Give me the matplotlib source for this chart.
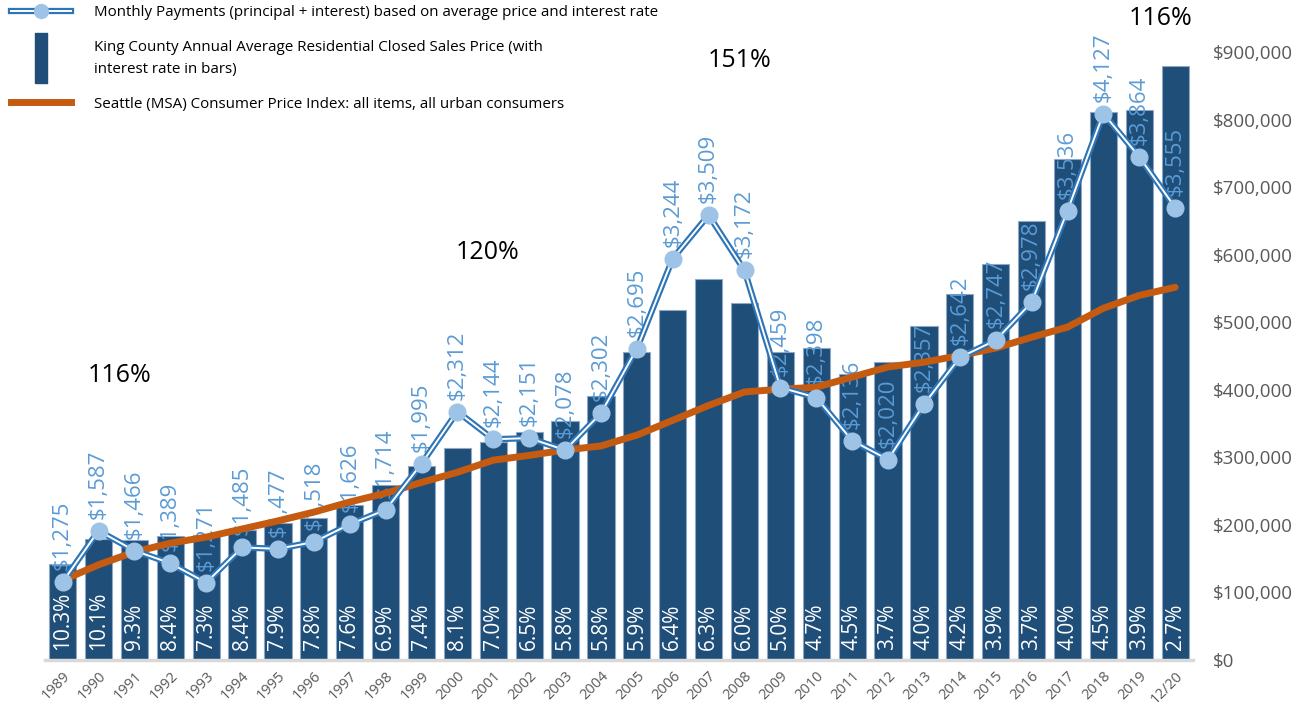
import matplotlib
matplotlib.use("Agg")
import matplotlib.pyplot as plt
from matplotlib.lines import Line2D
from matplotlib.legend_handler import HandlerTuple
from matplotlib.ticker import FuncFormatter

plt.rcParams['font.family'] = ['Open Sans', 'DejaVu Sans']

years = ['1989', '1990', '1991', '1992', '1993', '1994', '1995', '1996', '1997', '1998',
         '1999', '2000', '2001', '2002', '2003', '2004', '2005', '2006', '2007', '2008',
         '2009', '2010', '2011', '2012', '2013', '2014', '2015', '2016', '2017', '2018',
         '2019', '12/20']

# average closed sales price ($)
avg_price = [142000, 179000, 178000, 184000, 185000, 192000, 203000, 210000, 229000, 259000,
             287000, 314000, 323000, 337000, 354000, 391000, 456000, 518000, 565000, 528000,
             456000, 462000, 423000, 441000, 494000, 542000, 586000, 650000, 742000, 811000,
             814000, 879000]

# 30-yr interest rate (%) shown inside bars
rates = [10.3, 10.1, 9.3, 8.4, 7.3, 8.4, 7.9, 7.8, 7.6, 6.9,
         7.4, 8.1, 7.0, 6.5, 5.8, 5.8, 5.9, 6.4, 6.3, 6.0,
         5.0, 4.7, 4.5, 3.7, 4.0, 4.2, 3.9, 3.7, 4.0, 4.5,
         3.9, 2.7]

# monthly payment ($)
payments = [1275, 1587, 1466, 1389, 1271, 1485, 1477, 1518, 1626, 1714,
            1995, 2312, 2144, 2151, 2078, 2302, 2695, 3244, 3509, 3172,
            2459, 2398, 2136, 2020, 2357, 2642, 2747, 2978, 3536, 4127,
            3864, 3555]

# CPI line, scaled to the price axis
cpi = [118000, 141000, 160000, 173000, 182000, 194000, 206000, 219000, 234000, 247000,
       263000, 278000, 296000, 303000, 311000, 317000, 333000, 355000, 377000, 397000,
       401000, 404000, 419000, 434000, 441000, 451000, 462000, 478000, 493000, 521000,
       540000, 552000]

notes = ['116%', '120%', '151%', '116%']
note_pos = [(1.6, 422000), (11.85, 604000), (18.85, 888000), (30.6, 950000)]

bar_col = '#1f4e79'
pay_col = '#2e75b6'
dot_col = '#9dc3e6'
lab_col = '#5b9bd5'
cpi_col = '#c55a11'
grey = '#595959'

fig = plt.figure(figsize=(13.14, 7.07), dpi=100)
ax = fig.add_axes([0.034, 0.0665, 0.874, 0.8595])
x = list(range(len(years)))

ax.bar(x, avg_price, width=0.76, color=bar_col, edgecolor='#8ea9c8', linewidth=0.8, zorder=2)
for i, r in enumerate(rates):
    ax.annotate(f'{r:.1f}%', (i, 0), xytext=(0, 10), textcoords='offset pixels',
                rotation=90, ha='center', va='bottom', color='white', fontsize=15, zorder=3)

ax.set_xlim(-0.5, len(years) - 0.5)
ax.set_ylim(0, 900000)
ax.set_xticks(x)
ax.set_xticklabels(years, rotation=45, ha='right', rotation_mode='anchor')
ax.tick_params(axis='x', length=0, pad=6, labelsize=10.5, labelcolor=grey)
for s in ['top', 'left', 'right']:
    ax.spines[s].set_visible(False)
ax.spines['bottom'].set_color('#d9d9d9')
ax.spines['bottom'].set_linewidth(2.5)

for t, (tx, ty) in zip(notes, note_pos):
    ax.text(tx, ty, t, fontsize=18, ha='center', va='center', color='black', clip_on=False)

# payments on their own hidden scale
ax2 = ax.twinx()
ax2.set_ylim(800, 4500)
ax2.set_yticks([])
for s in ax2.spines.values():
    s.set_visible(False)
for i, p in enumerate(payments):
    ax2.annotate(f'${p:,}', (i, p), xytext=(0, 12), textcoords='offset pixels',
                 rotation=90, ha='center', va='bottom', color=lab_col, fontsize=16, zorder=4)
# CPI drawn in price units, but on top of the payment labels
ax2.plot(x, cpi, color=cpi_col, linewidth=5, solid_capstyle='round', zorder=5,
         transform=ax.transData)
ax2.plot(x, payments, color=pay_col, linewidth=4.5, zorder=6)
ax2.plot(x, payments, color='white', linewidth=1.4, zorder=7)
ax2.plot(x, payments, linestyle='none', marker='o', markersize=12,
         markerfacecolor=dot_col, markeredgecolor=dot_col, zorder=8)
ax.set_zorder(ax2.get_zorder() - 1)
ax.patch.set_visible(False)

# price axis on the right (set after twinx, which resets it)
ax.yaxis.tick_right()
ax.set_yticks(range(0, 900001, 100000))
ax.yaxis.set_major_formatter(FuncFormatter(lambda v, p: f'${v:,.0f}'))
ax.tick_params(axis='y', length=0, pad=14, labelsize=13.5, labelcolor=grey)

# legend
h_pay = (Line2D([], [], color=pay_col, linewidth=4.5),
         Line2D([], [], color='white', linewidth=1.4),
         Line2D([], [], linestyle='none', marker='o', markersize=10,
                markerfacecolor=dot_col, markeredgecolor=dot_col))
bar_marker = [(-0.24, -1), (0.24, -1), (0.24, 1), (-0.24, 1), (-0.24, -1)]
h_bar = Line2D([], [], linestyle='none', marker=bar_marker, markersize=36,
               markerfacecolor=bar_col, markeredgecolor=bar_col)
h_cpi = Line2D([], [], color=cpi_col, linewidth=5)
leg = fig.legend([h_pay, h_bar, h_cpi],
                 ['Monthly Payments (principal + interest) based on average price and interest rate',
                  'King County Annual Average Residential Closed Sales Price (with\ninterest rate in bars)',
                  'Seattle (MSA) Consumer Price Index: all items, all urban consumers'],
                 handler_map={tuple: HandlerTuple(ndivide=1)},
                 loc='upper left', bbox_to_anchor=(0.008, 0.993), frameon=False,
                 fontsize=10.9, handlelength=4.0, handletextpad=1.5, labelspacing=1.32,
                 borderpad=0, borderaxespad=0)
for t in leg.get_texts():
    t.set_linespacing(1.6)
    t.set_color('black')

fig.savefig('out.png', dpi=100)
